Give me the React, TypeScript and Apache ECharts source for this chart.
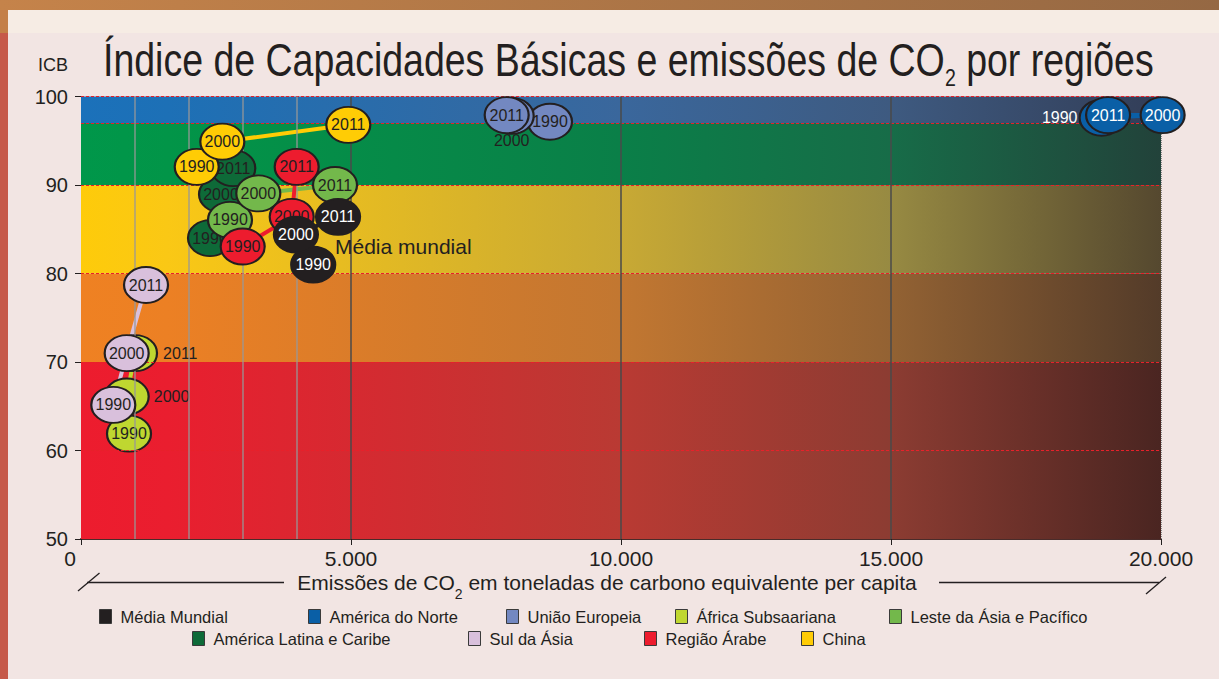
import { useEffect, useRef } from 'react';
import * as echarts from 'echarts';

// ---------- DATA ----------
const years = ['1990', '2000', '2011'];

const regionNames = [
  'Média Mundial',
  'América do Norte',
  'União Europeia',
  'África Subsaariana',
  'Leste da Ásia e Pacífico',
  'América Latina e Caribe',
  'Sul da Ásia',
  'Região Árabe',
  'China',
];

// CO2 emissions (x) and ICB (y) for 1990, 2000, 2011
const co2MediaMundial = [4300, 3980, 4760];
const icbMediaMundial = [81.0, 84.4, 86.4];
const co2AmericaNorte = [18900, 20030, 19020];
const icbAmericaNorte = [97.6, 97.9, 97.9];
const co2UniaoEuropeia = [8685, 7976, 7883];
const icbUniaoEuropeia = [97.15, 97.8, 97.9];
const co2AfricaSub = [889, 846, 1000];
const icbAfricaSub = [61.9, 66.1, 71.0];
const co2LesteAsia = [2759, 3283, 4704];
const icbLesteAsia = [86.05, 89.05, 90.0];
const co2AmericaLatina = [2389, 2593, 2820];
const icbAmericaLatina = [84.0, 88.95, 91.9];
const co2SulAsia = [598, 846, 1204];
const icbSulAsia = [65.15, 71.0, 78.7];
const co2RegiaoArabe = [2994, 3902, 3994];
const icbRegiaoArabe = [83.05, 86.4, 92.05];
const co2China = [2143, 2617, 4950];
const icbChina = [92.05, 94.9, 96.8];

const co2ByRegion = [
  co2MediaMundial, co2AmericaNorte, co2UniaoEuropeia, co2AfricaSub, co2LesteAsia,
  co2AmericaLatina, co2SulAsia, co2RegiaoArabe, co2China,
];
const icbByRegion = [
  icbMediaMundial, icbAmericaNorte, icbUniaoEuropeia, icbAfricaSub, icbLesteAsia,
  icbAmericaLatina, icbSulAsia, icbRegiaoArabe, icbChina,
];

const icbBandLimits = [50, 70, 80, 90, 97, 100];
const icbDashedLevels = [60, 70, 80, 90, 97, 100];
const xTickLabels = ['0', '5.000', '10.000', '15.000', '20.000'];
const minorGridX = [1000, 2000, 3000, 4000];
const majorGridX = [5000, 10000, 15000];
const xMax = 20000;

// ---------- STYLE ----------
const FONT = '"Liberation Sans", Arial, Helvetica, sans-serif';
const TXT = '#231f20';

const regionColors: Record<string, string> = {
  'Média Mundial': '#231f20',
  'América do Norte': '#0a5fa6',
  'União Europeia': '#7388c1',
  'África Subsaariana': '#bfd730',
  'Leste da Ásia e Pacífico': '#73b84b',
  'América Latina e Caribe': '#0e6a38',
  'Sul da Ásia': '#d9c0dc',
  'Região Árabe': '#ed1c2e',
  'China': '#ffcc05',
};
const whiteLabel: Record<string, boolean> = {
  'Média Mundial': true,
  'América do Norte': true,
};
const labelOverrides: Record<string, Record<number, any>> = {
  'América do Norte': { 0: { position: 'left', distance: 1 } },
  'União Europeia': { 1: { position: 'bottom', distance: -2 } },
  'África Subsaariana': {
    1: { position: 'right', distance: 4 },
    2: { position: 'right', distance: 5 },
  },
};
const drawOrder = [
  'África Subsaariana', 'Sul da Ásia', 'América Latina e Caribe', 'Leste da Ásia e Pacífico',
  'China', 'Região Árabe', 'Média Mundial', 'União Europeia', 'América do Norte',
];
// band gradients (bottom to top)
const bandStops = [
  ['#ed1c2e', '#ea1e2f', '#b93a33', '#8c3c32', '#4a2521'],
  ['#ef8122', '#ec8024', '#c27731', '#936233', '#533b29'],
  ['#fecb0a', '#fac815', '#c8a934', '#978a42', '#55482f'],
  ['#00974a', '#029548', '#0a7f48', '#176c48', '#22423a'],
  ['#1b71ba', '#1d70b6', '#3a679c', '#3e5a80', '#323d57'],
];
const stopPos = [0, 0.08, 0.5, 0.75, 1];

const legendPos = [
  { left: 99, top: 608 },
  { left: 308, top: 608 },
  { left: 506, top: 608 },
  { left: 675, top: 608 },
  { left: 889, top: 608 },
  { left: 192, top: 630 },
  { left: 468, top: 630 },
  { left: 644, top: 630 },
  { left: 801, top: 630 },
];

const ELLIPSE = 'path://M0,50 A50,50 0 1,1 100,50 A50,50 0 1,1 0,50 Z';

export default function App() {
  const ref = useRef<HTMLDivElement>(null);

  useEffect(() => {
    document.body.style.margin = '0';
    const chart = echarts.init(ref.current!, undefined, { renderer: 'svg' });

    const markAreaData = bandStops.map((stops, i) => [
      {
        xAxis: 0,
        yAxis: icbBandLimits[i],
        itemStyle: {
          color: {
            type: 'linear', x: 0, y: 0, x2: 1, y2: 0,
            colorStops: stops.map((c, k) => ({ offset: stopPos[k], color: c })),
          },
        },
      },
      { xAxis: xMax, yAxis: icbBandLimits[i + 1] },
    ]);

    const markLineData: any[] = [
      ...icbDashedLevels.map((v) => [
        { coord: [0, v], lineStyle: { color: '#e8202a', width: 1, type: [3, 2] } },
        { coord: [xMax, v] },
      ]),
      ...minorGridX.map((v) => ({
        xAxis: v,
        lineStyle: { color: 'rgba(150,150,150,0.85)', width: 1.5, type: 'solid' },
      })),
      ...majorGridX.map((v) => ({
        xAxis: v,
        lineStyle: { color: '#4a4a4a', width: 1.5, type: 'solid' },
      })),
      [
        { coord: [xMax, 50], lineStyle: { color: '#8a8a8a', width: 1, type: 'dotted' } },
        { coord: [xMax, 97] },
      ],
    ];

    const series: any[] = [
      {
        name: 'bands',
        type: 'scatter',
        data: [],
        z: 1,
        silent: true,
        markArea: { silent: true, data: markAreaData, label: { show: false } },
      },
      {
        name: 'grid-lines',
        type: 'scatter',
        data: [],
        z: 2,
        silent: true,
        markLine: {
          silent: true,
          symbol: 'none',
          animation: false,
          label: { show: false },
          emphasis: { disabled: true },
          data: markLineData,
        },
      },
    ];

    regionNames.forEach((name, r) => {
      series.push({
        name: name + ' - linha',
        type: 'line',
        data: co2ByRegion[r].map((x, i) => [x, icbByRegion[r][i]]),
        symbol: 'none',
        z: 3,
        silent: true,
        lineStyle: { color: regionColors[name], width: 4 },
      });
    });

    drawOrder.forEach((name, k) => {
      const r = regionNames.indexOf(name);
      const isWhite = !!whiteLabel[name];
      series.push({
        name,
        type: 'scatter',
        z: 4 + k,
        clip: false,
        symbol: ELLIPSE,
        symbolSize: [44, 36],
        emphasis: { disabled: true },
        itemStyle: {
          color: regionColors[name],
          borderColor: TXT,
          borderWidth: 2,
          opacity: 1,
        },
        label: {
          show: true,
          position: 'inside',
          formatter: '{b}',
          fontSize: 16,
          fontFamily: FONT,
          color: isWhite ? '#ffffff' : TXT,
        },
        data: co2ByRegion[r].map((x, i) => {
          const item: any = { value: [x, icbByRegion[r][i]], name: years[i] };
          const ov = labelOverrides[name] && labelOverrides[name][i];
          if (ov) item.label = ov;
          return item;
        }),
      });
    });

    const legends = regionNames.map((name, i) => ({
      data: [name],
      left: legendPos[i].left,
      top: legendPos[i].top,
      padding: 0,
      icon: 'rect',
      itemWidth: 12,
      itemHeight: 14,
      selectedMode: false,
      itemStyle: { borderColor: '#3a3a3a', borderWidth: 1 },
      textStyle: { fontSize: 16.5, fontFamily: FONT, color: TXT, padding: [0, 0, 0, 4] },
    }));

    chart.setOption({
      animation: false,
      backgroundColor: '#f2e5e3',
      grid: { left: 81, right: 58, top: 96.5, bottom: 140, containLabel: false },
      xAxis: {
        type: 'value',
        min: 0,
        max: xMax,
        interval: 5000,
        splitLine: { show: false },
        axisLine: { show: true, onZero: false, lineStyle: { color: '#4a2c2a', width: 2 } },
        axisTick: { show: true, length: 6, lineStyle: { color: TXT, width: 1 } },
        axisLabel: {
          fontSize: 21,
          fontFamily: FONT,
          color: TXT,
          margin: 9,
          formatter: (v: number) => {
            const idx = Math.round(v / 5000);
            return idx === 0 ? '{z|' + xTickLabels[0] + '}' : xTickLabels[idx];
          },
          rich: { z: { fontSize: 21, fontFamily: FONT, color: TXT, padding: [0, 22, 0, 0] } },
        },
      },
      yAxis: {
        type: 'value',
        min: 50,
        max: 100,
        interval: 10,
        splitLine: { show: false },
        axisLine: { show: true, lineStyle: { color: TXT, width: 1 } },
        axisTick: { show: true, length: 6, lineStyle: { color: TXT, width: 1 } },
        axisLabel: { fontSize: 20, fontFamily: FONT, color: TXT, margin: 13 },
      },
      legend: legends,
      graphic: [
        { type: 'rect', z: -10, shape: { x: 0, y: 0, width: 1219, height: 10 },
          style: { fill: { type: 'linear', x: 0, y: 0, x2: 1, y2: 0,
            colorStops: [{ offset: 0, color: '#c5834a' }, { offset: 1, color: '#956843' }] } } },
        { type: 'rect', z: -10, shape: { x: 8, y: 10, width: 1211, height: 23 },
          style: { fill: '#f6ece4' } },
        { type: 'rect', z: -10, shape: { x: 0, y: 10, width: 8, height: 23 },
          style: { fill: '#c47f47' } },
        { type: 'rect', z: -10, shape: { x: 0, y: 33, width: 8, height: 646 },
          style: { fill: '#c65949' } },
        {
          type: 'text', x: 103, y: 60, scaleX: 0.815, z: 50,
          style: {
            text: '{t|Índice de Capacidades Básicas e emissões de CO}{s|2}{t| por regiões}',
            verticalAlign: 'middle',
            fill: TXT,
            rich: {
              t: { fontSize: 46, fontFamily: FONT, fill: TXT, lineHeight: 46, verticalAlign: 'middle' },
              s: { fontSize: 24, fontFamily: FONT, fill: TXT, lineHeight: 60, verticalAlign: 'bottom' },
            },
          },
        },
        {
          type: 'text', x: 68, y: 65, z: 50,
          style: { text: 'ICB', fontSize: 18, fontFamily: FONT, fill: TXT, align: 'right', verticalAlign: 'middle' },
        },
        {
          type: 'text', x: 335, y: 246, z: 50,
          style: { text: 'Média mundial', fontSize: 21, fontFamily: FONT, fill: TXT, verticalAlign: 'middle' },
        },
        {
          type: 'text', x: 607, y: 582, z: 50,
          style: {
            text: '{t|Emissões de CO}{s|2}{t| em toneladas de carbono equivalente per capita}',
            align: 'center',
            verticalAlign: 'middle',
            fill: TXT,
            rich: {
              t: { fontSize: 21, fontFamily: FONT, fill: TXT, lineHeight: 22, verticalAlign: 'middle' },
              s: { fontSize: 14, fontFamily: FONT, fill: TXT, lineHeight: 37, verticalAlign: 'bottom' },
            },
          },
        },
        { type: 'line', z: 50, shape: { x1: 78, y1: 591, x2: 99.5, y2: 573 }, style: { stroke: TXT, lineWidth: 1.3 } },
        { type: 'line', z: 50, shape: { x1: 87, y1: 582.5, x2: 284, y2: 582.5 }, style: { stroke: TXT, lineWidth: 1.3 } },
        { type: 'line', z: 50, shape: { x1: 939, y1: 582.5, x2: 1159, y2: 582.5 }, style: { stroke: TXT, lineWidth: 1.3 } },
        { type: 'line', z: 50, shape: { x1: 1146, y1: 594, x2: 1166, y2: 577 }, style: { stroke: TXT, lineWidth: 1.3 } },
      ],
      series,
    });

    return () => chart.dispose();
  }, []);

  return <div ref={ref} style={{ width: 1219, height: 679 }} />;
}
